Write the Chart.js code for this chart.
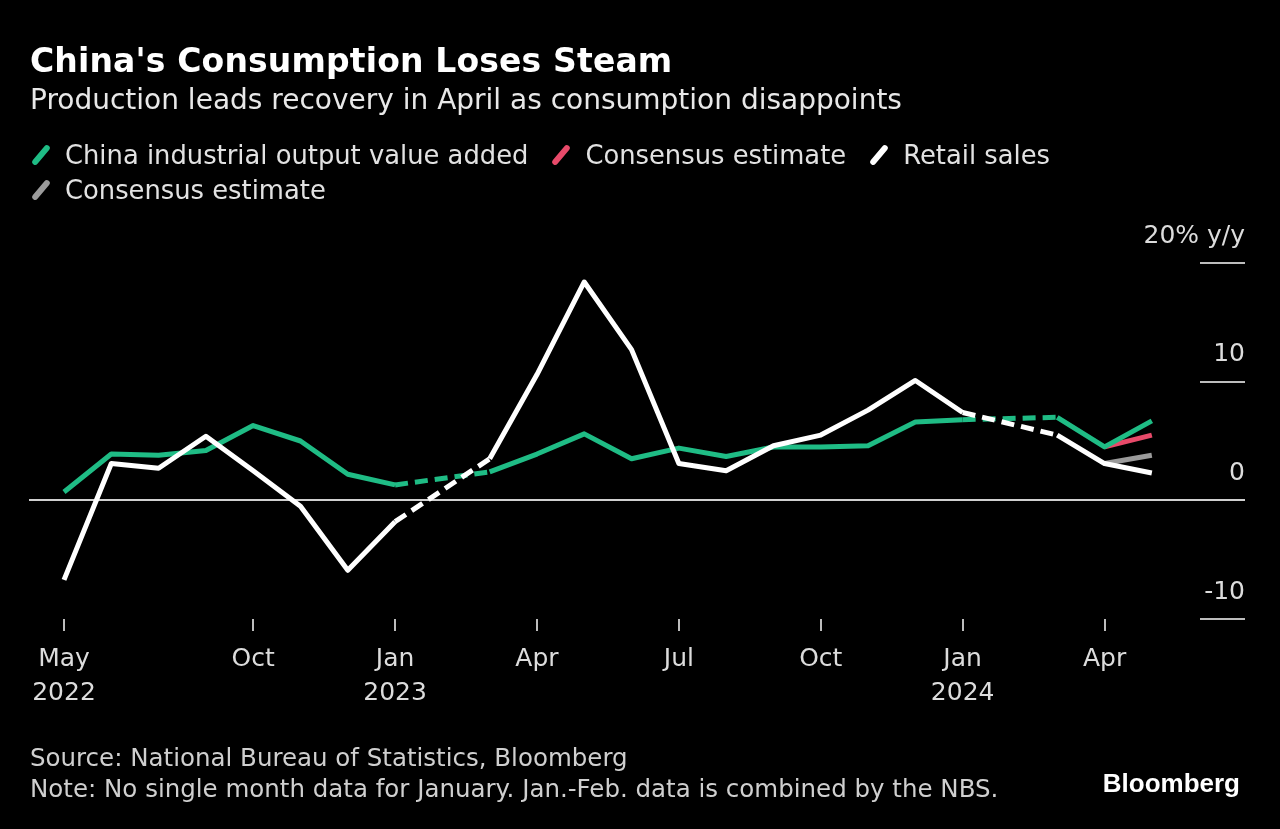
<!DOCTYPE html>
<html><head><meta charset="utf-8">
<script src="https://cdn.jsdelivr.net/npm/chart.js@4.4.1/dist/chart.umd.min.js"></script>
<style>
html,body{margin:0;padding:0;background:#000;width:1280px;height:829px;overflow:hidden}
body{position:relative;font-family:'DejaVu Sans',sans-serif;color:#e2e2e2}
canvas{position:absolute;left:0;top:0}
.t{position:absolute;white-space:nowrap}
#title{left:30px;top:41px;font-size:33px;font-weight:bold;color:#fff;letter-spacing:0.15px}
#sub{left:30px;top:83px;font-size:28px;color:#e8e8e8}
.row{position:absolute;left:30px;white-space:nowrap;font-size:25.8px;line-height:35px}
.li{display:inline-block;margin-right:22px}
.mk{display:inline-block;width:6px;height:24px;border-radius:3px;transform:rotate(40deg);margin:0 21px 0 8px;vertical-align:-3px}
#src{left:30px;top:742px;font-size:24.5px;line-height:31px;color:#cfcfcf}
#logo{right:40px;top:768px;font-family:'Liberation Sans',Arial,sans-serif;font-weight:bold;font-size:26px;color:#fff}
</style></head>
<body>
<canvas id="c" width="1280" height="829"></canvas>
<div class="t" id="title">China's Consumption Loses Steam</div>
<div class="t" id="sub">Production leads recovery in April as consumption disappoints</div>
<div class="row" id="row1" style="top:138px"></div>
<div class="row" id="row2" style="top:173px"></div>
<div class="t" id="src">Source: National Bureau of Statistics, Bloomberg<br>Note: No single month data for January. Jan.-Feb. data is combined by the NBS.</div>
<div class="t" id="logo">Bloomberg</div>
<script>
// Month index 0 = May 2022 ... 23 = Apr 2024 (Jan 2023 / Jan 2024 have no single-month data)
const months = ['May 2022','Jun 2022','Jul 2022','Aug 2022','Sep 2022','Oct 2022','Nov 2022','Dec 2022',
  'Jan 2023','Feb 2023','Mar 2023','Apr 2023','May 2023','Jun 2023','Jul 2023','Aug 2023','Sep 2023',
  'Oct 2023','Nov 2023','Dec 2023','Jan 2024','Feb 2024','Mar 2024','Apr 2024'];
const industrialOutput = [0.7,3.9,3.8,4.2,6.3,5.0,2.2,1.3,null,2.4,3.9,5.6,3.5,4.4,3.7,4.5,4.5,4.6,6.6,6.8,null,7.0,4.5,6.7];
const retailSales = [-6.7,3.1,2.7,5.4,2.5,-0.5,-5.9,-1.8,null,3.5,10.6,18.4,12.7,3.1,2.5,4.6,5.5,7.6,10.1,7.4,null,5.5,3.1,2.3];
const industrialConsensus = [4.5,5.5];   // Mar 2024 actual -> Apr 2024 estimate
const retailConsensus = [3.1,3.8];
const consensusIdx = [22,23];
const seriesNames = ['China industrial output value added','Consensus estimate','Retail sales','Consensus estimate'];
const seriesColors = ['#1fbc85','#e84a6a','#ffffff','#9b9b9b'];
const xTickIdx = [0,4,7,10,13,16,19,22];
const xTickLabels = [['May','2022'],'Oct',['Jan','2023'],'Apr','Jul','Oct',['Jan','2024'],'Apr'];
const yTicks = [-10,0,10,20];
const yTopLabel = '20% y/y';

// legend
function legItem(i){return '<span class="li"><span class="mk" style="background:'+seriesColors[i]+'"></span>'+seriesNames[i]+'</span>';}
document.getElementById('row1').innerHTML = legItem(0)+legItem(1)+legItem(2);
document.getElementById('row2').innerHTML = legItem(3);

const pts = (arr, idx) => arr.map((v,i)=>({x: idx? idx[i] : i, y: v}));
const dashGap = ctx => (ctx.p0.skip || ctx.p1.skip) ? [13,7] : undefined;
const FONT = "'DejaVu Sans',sans-serif";

const shortLines = {
  id:'shortLines',
  afterDraw(chart){
    const y = chart.scales.y, a = chart.chartArea, c = chart.ctx;
    c.save(); c.strokeStyle='#bdbdbd'; c.lineWidth=2;
    y.ticks.forEach(t=>{ if(t.value!==0){ const py=Math.round(y.getPixelForValue(t.value)); c.beginPath(); c.moveTo(a.right-45,py); c.lineTo(a.right,py); c.stroke(); }});
    c.restore();
  }
};

new Chart(document.getElementById('c'), {
  type:'line',
  data:{datasets:[
    {label:seriesNames[0], data:pts(industrialOutput), borderColor:seriesColors[0], order:2, spanGaps:true, segment:{borderDash:dashGap}},
    {label:seriesNames[1], data:pts(industrialConsensus,consensusIdx), borderColor:seriesColors[1], order:3},
    {label:seriesNames[2], data:pts(retailSales), borderColor:seriesColors[2], order:1, spanGaps:true, segment:{borderDash:dashGap}},
    {label:seriesNames[3], data:pts(retailConsensus,consensusIdx), borderColor:seriesColors[3], order:4}
  ]},
  options:{
    responsive:false, animation:false, devicePixelRatio:1,
    layout:{padding:{left:29,right:35,top:263,bottom:120}},
    elements:{point:{radius:0},line:{borderWidth:5,tension:0,borderJoinStyle:'round',borderCapStyle:'butt'}},
    plugins:{legend:{display:false},tooltip:{enabled:false}},
    scales:{
      x:{type:'linear',min:-0.74,max:24.97,
        afterBuildTicks:s=>{s.ticks = xTickIdx.map(v=>({value:v}));},
        afterFit:s=>{s.height=90;},
        border:{display:false},
        grid:{drawOnChartArea:false,drawTicks:true,tickLength:12,color:'#bdbdbd',lineWidth:2},
        ticks:{autoSkip:false,maxRotation:0,padding:11,color:'#dcdcdc',font:{family:FONT,size:25,lineHeight:1.36},
          callback:(v)=>{const k=xTickIdx.indexOf(v);return k>=0?xTickLabels[k]:'';}}
      },
      y:{position:'right',min:-10,max:20,
        afterBuildTicks:s=>{s.ticks = yTicks.map(v=>({value:v}));},
        afterFit:s=>{s.width=0;},
        border:{display:false},
        grid:{drawTicks:false,color:c=>c.tick && c.tick.value===0?'#d0d0d0':'rgba(0,0,0,0)',lineWidth:2},
        ticks:{mirror:true,padding:0,labelOffset:-27,color:'#dcdcdc',font:{family:FONT,size:25},
          callback:v=> v===20? yTopLabel : String(v)}
      }
    }
  },
  plugins:[shortLines]
});
</script>
</body></html>
